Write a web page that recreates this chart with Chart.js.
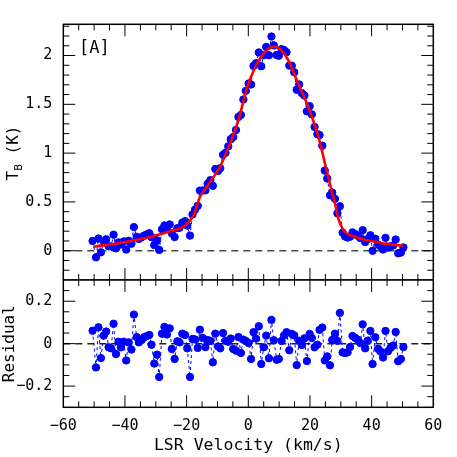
<!DOCTYPE html>
<html>
<head>
<meta charset="utf-8">
<script src="https://cdn.jsdelivr.net/npm/chart.js@4/dist/chart.umd.min.js"></script>
<style>
  html, body { margin: 0; padding: 0; background: #fff; }
  #wrap { position: relative; width: 457px; height: 457px; overflow: hidden; }
  canvas { position: absolute; left: 0; }
  #cTop { top: 0; }
  #cRes { top: 270px; }
</style>
</head>
<body>
<div id="wrap">
  <canvas id="cTop" width="457" height="280"></canvas>
  <canvas id="cRes" width="457" height="187"></canvas>
</div>
<script>
// velocidade dos canais (km/s)
const velocity = [
  -50.5,-49.4,-48.6,-47.8,-46.9,-46.1,-45.3,-44.5,-43.7,-42.9,
  -42.1,-41.3,-40.4,-39.6,-38.8,-37.9,-37.1,-36.2,-35.5,-34.6,
  -33.8,-33.0,-32.1,-31.4,-30.5,-29.6,-28.9,-28.0,-27.2,-26.4,
  -25.5,-24.8,-23.9,-23.0,-22.3,-21.4,-20.5,-19.8,-18.9,-18.1,
  -17.3,-16.4,-15.7,-14.8,-13.9,-13.2,-12.3,-11.5,-10.7,-9.8,
  -9.1,-8.2,-7.4,-6.5,-5.7,-4.9,-4.0,-3.2,-2.4,-1.6,
  -0.8,0.1,0.9,1.7,2.5,3.4,4.2,5.0,5.8,6.7,
  7.5,8.3,9.2,9.9,10.8,11.6,12.4,13.3,14.1,14.9,
  15.7,16.5,17.4,18.2,19.0,19.9,20.6,21.5,22.4,23.1,
  24.0,24.8,25.6,26.5,27.2,28.1,28.9,29.7,30.6,31.4,
  32.2,33.0,33.8,34.7,35.5,36.3,37.1,37.9,38.7,39.6,
  40.3,41.2,42.1,42.8,43.7,44.5,45.3,46.2,47.0,47.8,
  48.6,49.5,50.3
];

// temperatura de brilho observada (K)
const tbObs = [
  0.100,-0.068,0.125,-0.016,0.094,0.117,0.046,0.044,0.164,0.024,
  0.085,0.064,0.096,0.012,0.102,0.072,0.242,0.142,0.121,0.138,
  0.155,0.166,0.179,0.139,0.058,0.107,0.008,0.220,0.259,0.232,
  0.269,0.178,0.140,0.231,0.236,0.288,0.303,0.258,0.155,0.372,
  0.420,0.460,0.616,0.617,0.619,0.685,0.723,0.665,0.837,0.817,
  0.845,0.983,1.004,1.069,1.142,1.165,1.237,1.371,1.391,1.549,
  1.638,1.713,1.703,1.894,1.921,2.032,1.890,2.003,2.088,2.003,
  2.195,2.104,2.006,1.998,2.065,2.056,2.034,1.897,1.896,1.829,
  1.649,1.704,1.614,1.590,1.428,1.481,1.397,1.268,1.195,1.185,
  1.076,0.821,0.740,0.568,0.597,0.532,0.383,0.455,0.185,0.146,
  0.135,0.144,0.188,0.170,0.154,0.130,0.210,0.089,0.118,0.158,
  -0.001,0.122,0.063,0.046,0.012,0.132,0.033,0.047,0.054,0.115,
  -0.026,-0.019,0.034
];

// residuo do ajuste (K)
const residual = [
  0.061,-0.112,0.077,-0.068,0.038,0.057,-0.017,-0.022,0.094,-0.049,
  0.009,-0.017,0.009,-0.079,0.006,-0.028,0.137,0.031,0.006,0.017,
  0.030,0.035,0.041,-0.005,-0.094,-0.052,-0.157,0.047,0.079,0.043,
  0.072,-0.025,-0.072,0.011,0.006,0.047,0.041,-0.022,-0.157,0.022,
  0.020,-0.020,0.066,0.027,-0.016,0.017,0.013,-0.088,0.047,-0.013,
  -0.022,0.050,0.014,0.009,0.024,-0.025,-0.033,0.031,-0.044,0.019,
  0.013,0.003,-0.072,0.054,0.024,0.082,-0.096,-0.017,0.038,-0.069,
  0.112,0.016,-0.076,-0.072,0.013,0.039,0.054,-0.031,0.046,0.039,
  -0.101,0.014,-0.006,0.025,-0.082,0.046,0.027,-0.017,-0.005,0.065,
  0.076,-0.079,-0.060,-0.102,0.017,0.047,0.013,0.145,-0.041,-0.044,
  -0.041,-0.016,0.036,0.027,0.019,0.003,0.091,-0.022,0.014,0.060,
  -0.096,0.030,-0.024,-0.036,-0.065,0.060,-0.036,-0.019,-0.009,0.055,
  -0.083,-0.072,-0.016
];

// curva do ajuste (linha vermelha)
const fitVel = [-50.3,-46,-42.2,-38,-33.5,-29.5,-25.9,-23,-21.1,-19.8,-18.4,-17.3,-15.7,-14,-12.4,
  -9.2,-5.9,-3.2,-0.5,2.2,3.8,5.5,7,8.7,10.5,13,16.2,19.5,22.7,25.4,27,28.1,29.2,30.5,31.4,
  33,35.7,38,41.1,45,50.3];
const fitTb = [0.04,0.06,0.076,0.10,0.127,0.16,0.194,0.22,0.245,0.28,0.33,0.40,0.55,0.63,0.705,
  0.86,1.10,1.34,1.66,1.88,1.97,2.04,2.08,2.09,2.06,1.95,1.71,1.47,1.17,0.825,0.62,0.485,0.33,0.23,0.19,
  0.16,0.133,0.11,0.092,0.07,0.05];

const velTicks = [-60, -40, -20, 0, 20, 40, 60];
const tbTicks = [0, 0.5, 1, 1.5, 2];
const resTicks = [-0.2, 0, 0.2];

const FONT = "'DejaVu Sans Mono', monospace";
const AREA_LEFT = 63.3;
const AREA_RIGHT_PAD = 457 - 433.3;

function pontos(xs, ys) {
  return xs.map((x, i) => ({ x: x, y: ys[i] }));
}

function rotulo(v) {
  const s = String(Math.round(v * 100) / 100);
  return s.replace('-', '\u2212');
}

// ticks para dentro nos quatro lados + moldura
const molduraPlugin = {
  id: 'moldura',
  afterDraw(chart, args, opts) {
    const { ctx, chartArea: a } = chart;
    const sx = chart.scales.x, sy = chart.scales.y;
    ctx.save();
    ctx.strokeStyle = '#000';
    ctx.lineWidth = 1;

    const marcas = (scale, step, major, fn) => {
      const i0 = Math.ceil(scale.min / step - 1e-6);
      for (let i = i0; i * step <= scale.max + 1e-9; i++) {
        const v = i * step;
        if (v <= scale.min + 1e-6 || v >= scale.max - 1e-6) continue;
        const r = v / major;
        const isMajor = Math.abs(r - Math.round(r)) < 1e-6;
        fn(scale.getPixelForValue(v), isMajor ? 12 : 6);
      }
    };

    ctx.beginPath();
    marcas(sx, 5, 20, (p, len) => {
      ctx.moveTo(p, a.top); ctx.lineTo(p, a.top + len);
      ctx.moveTo(p, a.bottom); ctx.lineTo(p, a.bottom - len);
    });
    marcas(sy, opts.yMinor, opts.yMajor, (p, len) => {
      ctx.moveTo(a.left, p); ctx.lineTo(a.left + len, p);
      ctx.moveTo(a.right, p); ctx.lineTo(a.right - len, p);
    });
    ctx.stroke();

    ctx.lineWidth = 1.5;
    ctx.strokeRect(a.left, a.top, a.right - a.left, a.bottom - a.top);

    if (opts.painel) {
      ctx.fillStyle = '#000';
      ctx.font = "17px " + FONT;
      ctx.textBaseline = 'middle';
      ctx.textAlign = 'left';
      ctx.fillText(opts.painel, 79, 49);
    }
    if (opts.tituloY) {
      // T com subscrito B
      ctx.fillStyle = '#000';
      ctx.translate(14, 153);
      ctx.rotate(-Math.PI / 2);
      ctx.textBaseline = 'middle';
      ctx.textAlign = 'left';
      ctx.font = "16px " + FONT;
      const wT = ctx.measureText('T').width;
      ctx.font = "11px " + FONT;
      const wB = ctx.measureText('B').width;
      ctx.font = "16px " + FONT;
      const wK = ctx.measureText(' (K)').width;
      const x0 = -(wT + wB + wK) / 2;
      ctx.fillText('T', x0, 0);
      ctx.font = "11px " + FONT;
      ctx.fillText('B', x0 + wT, 5);
      ctx.font = "16px " + FONT;
      ctx.fillText(' (K)', x0 + wT + wB, 0);
    }
    ctx.restore();
  }
};

function eixoY(min, max, ticks, largura) {
  return {
    type: 'linear',
    min: min,
    max: max,
    grid: { display: false, drawTicks: false },
    border: { display: false },
    afterBuildTicks: (scale) => { scale.ticks = ticks.map(v => ({ value: v })); },
    afterFit: (scale) => {
      scale.width = largura;
      scale.paddingTop = 0; scale.paddingBottom = 0;
    },
    ticks: {
      color: '#000',
      padding: 11,
      font: { family: FONT, size: 15 },
      callback: (v) => rotulo(v)
    }
  };
}

function linhaZero(cor) {
  return {
    data: [{ x: -60, y: 0 }, { x: 60, y: 0 }],
    showLine: true,
    borderColor: cor,
    borderWidth: 1.5,
    borderDash: [7, 5],
    pointRadius: 0
  };
}

const azul = '#0000ff';

function desenharGraficos() {
  // painel de cima: espectro + ajuste
  new Chart(document.getElementById('cTop').getContext('2d'), {
    type: 'scatter',
    data: {
      datasets: [
        {
          data: pontos(fitVel, fitTb),
          showLine: true,
          borderColor: '#ff0000',
          borderWidth: 2.6,
          pointRadius: 0,
          cubicInterpolationMode: 'monotone'
        },
        {
          data: pontos(velocity, tbObs),
          showLine: true,
          borderColor: azul,
          borderWidth: 1,
          borderDash: [3, 3],
          backgroundColor: azul,
          pointBorderColor: azul,
          pointRadius: 3.7
        },
        linhaZero('#4a4a4a')
      ]
    },
    options: {
      responsive: false,
      animation: false,
      layout: { autoPadding: false, padding: { top: 24.3, right: AREA_RIGHT_PAD, bottom: 0, left: 0 } },
      scales: {
        x: { type: 'linear', min: -60, max: 60, display: false },
        y: eixoY(-0.3, 2.32, tbTicks, AREA_LEFT)
      },
      plugins: {
        legend: { display: false },
        tooltip: { enabled: false },
        moldura: { yMinor: 0.1, yMajor: 0.5, painel: '[A]', tituloY: true }
      }
    },
    plugins: [molduraPlugin]
  });

  // painel de baixo: residuos
  const eixoRes = eixoY(-0.3, 0.3, resTicks, AREA_LEFT);
  eixoRes.title = {
    display: true,
    text: 'Residual',
    color: '#000',
    font: { family: FONT, size: 16 },
    padding: { top: 0, bottom: 0 }
  };

  new Chart(document.getElementById('cRes').getContext('2d'), {
    type: 'scatter',
    data: {
      datasets: [
        {
          data: pontos(velocity, residual),
          showLine: true,
          borderColor: azul,
          borderWidth: 1,
          borderDash: [3, 3],
          backgroundColor: azul,
          pointBorderColor: azul,
          pointRadius: 3.7
        },
        linhaZero('#222222')
      ]
    },
    options: {
      responsive: false,
      animation: false,
      layout: { autoPadding: false, padding: { top: 10, right: AREA_RIGHT_PAD, bottom: 0, left: 0 } },
      scales: {
        x: {
          type: 'linear',
          min: -60,
          max: 60,
          grid: { display: false, drawTicks: false },
          border: { display: false },
          afterBuildTicks: (scale) => { scale.ticks = velTicks.map(v => ({ value: v })); },
          afterFit: (scale) => {
            scale.height = 49.7;
            scale.paddingLeft = 0; scale.paddingRight = 0;
          },
          ticks: {
            color: '#000',
            padding: 10,
            maxRotation: 0,
            font: { family: FONT, size: 15 },
            callback: (v) => rotulo(v)
          },
          title: {
            display: true,
            text: 'LSR Velocity (km/s)',
            color: '#000',
            font: { family: FONT, size: 16.5 },
            padding: { top: 0, bottom: 1 }
          }
        },
        y: eixoRes
      },
      plugins: {
        legend: { display: false },
        tooltip: { enabled: false },
        moldura: { yMinor: 0.05, yMajor: 0.2 }
      }
    },
    plugins: [molduraPlugin]
  });
}

document.addEventListener('DOMContentLoaded', desenharGraficos);
</script>
</body>
</html>
